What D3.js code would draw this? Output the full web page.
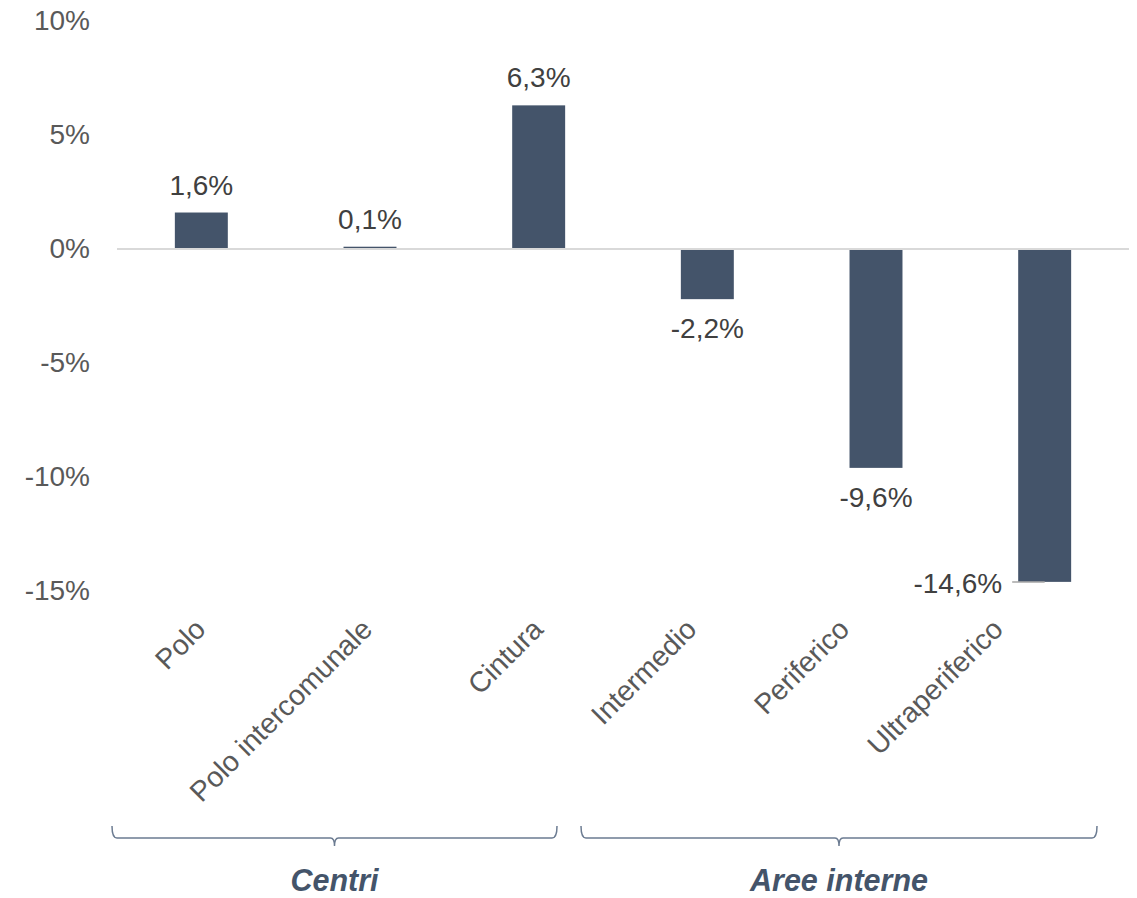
<!DOCTYPE html>
<html>
<head>
<meta charset="utf-8">
<script src="https://cdn.jsdelivr.net/npm/d3@7"></script>
<style>
  html, body { margin: 0; padding: 0; background: #ffffff; }
  svg { display: block; font-family: "Liberation Sans", Arial, sans-serif; }
</style>
</head>
<body>
<svg id="chart" width="1137" height="898"></svg>
<script>
// ---- data ----
const categories = ["Polo", "Polo intercomunale", "Cintura", "Intermedio", "Periferico", "Ultraperiferico"];
const values = [1.6, 0.1, 6.3, -2.2, -9.6, -14.6];
const groups = ["Centri", "Aree interne"];
const groupSizes = [3, 3];
const yTicks = [10, 5, 0, -5, -10, -15];

// ---- layout (styling only) ----
const labelDx = [5, 3, 5, -10, -26, -41];
const bracketInset = [[-5, -66], [-42, -32]];

const svg = d3.select("#chart");
const fmt = v => (v.toFixed(1)).replace(".", ",") + "%";

const x = d3.scaleBand().domain(categories).range([117, 1129])
  .paddingInner(0.686).paddingOuter(0.343);
const y = d3.scaleLinear().domain([-15, 10]).range([591, 21]);

// y axis labels
const yAxis = d3.axisLeft(y).tickValues(yTicks).tickSize(0).tickPadding(0)
  .tickFormat(d => d + "%");
const gy = svg.append("g").attr("transform", "translate(90,0)").call(yAxis);
gy.select(".domain").remove();
gy.selectAll("text").attr("font-size", 28).attr("fill", "#595959")
  .attr("font-family", "Liberation Sans, Arial, sans-serif");

// bars
svg.append("g").selectAll("rect").data(values).join("rect")
  .attr("x", (d, i) => x(categories[i]))
  .attr("width", x.bandwidth())
  .attr("y", d => y(Math.max(0, d)))
  .attr("height", d => Math.max(1.5, Math.abs(y(d) - y(0))))
  .attr("fill", "#44546a");

// zero line
svg.append("line")
  .attr("x1", x.range()[0]).attr("x2", x.range()[1])
  .attr("y1", y(0)).attr("y2", y(0))
  .attr("stroke", "#d9d9d9").attr("stroke-width", 2);

// data labels
const last = values.length - 1;
svg.append("g").selectAll("text").data(values).join("text")
  .attr("x", (d, i) => i === last ? x(categories[i]) - 16 : x(categories[i]) + x.bandwidth() / 2)
  .attr("y", (d, i) => i === last ? y(d) + 11 : (d >= 0 ? y(d) - 18 : y(d) + 39))
  .attr("text-anchor", (d, i) => i === last ? "end" : "middle")
  .attr("font-size", 28).attr("fill", "#404040")
  .text(d => fmt(d));

// leader line for the last label
svg.append("line")
  .attr("x1", x(categories[last]) - 6).attr("x2", x(categories[last]) + x.bandwidth() / 2)
  .attr("y1", y(values[last])).attr("y2", y(values[last]))
  .attr("stroke", "#a6a6a6").attr("stroke-width", 1.5);

// category labels
svg.append("g").selectAll("text").data(categories).join("text")
  .attr("transform", (d, i) => `translate(${x(d) + x.bandwidth() / 2 + labelDx[i] + 1},${631}) rotate(-45)`)
  .attr("text-anchor", "end")
  .attr("font-size", 28.5).attr("fill", "#595959")
  .text(d => d);

// group brackets
let start = 0;
groups.forEach((g, gi) => {
  const first = categories[start];
  const lastCat = categories[start + groupSizes[gi] - 1];
  const x0 = x(first) - x.step() * x.paddingOuter() + bracketInset[gi][0];
  const x1 = x(lastCat) + x.bandwidth() + x.step() * x.paddingOuter() + bracketInset[gi][1];
  const cx = (x0 + x1) / 2;
  const yl = 838, yt = 826, yb = 846;
  const p = `M${x0},${yt} Q${x0},${yl} ${x0 + 5},${yl} L${cx - 4},${yl} Q${cx},${yl} ${cx},${yb} Q${cx},${yl} ${cx + 4},${yl} L${x1 - 5},${yl} Q${x1},${yl} ${x1},${yt}`;
  svg.append("path").attr("d", p).attr("fill", "none")
    .attr("stroke", "#6b7b91").attr("stroke-width", 1.5);
  svg.append("text").attr("x", cx).attr("y", 891)
    .attr("text-anchor", "middle").attr("font-size", 30.5)
    .attr("font-weight", "bold").attr("font-style", "italic")
    .attr("fill", "#44546a").text(g);
  start += groupSizes[gi];
});
</script>
</body>
</html>
